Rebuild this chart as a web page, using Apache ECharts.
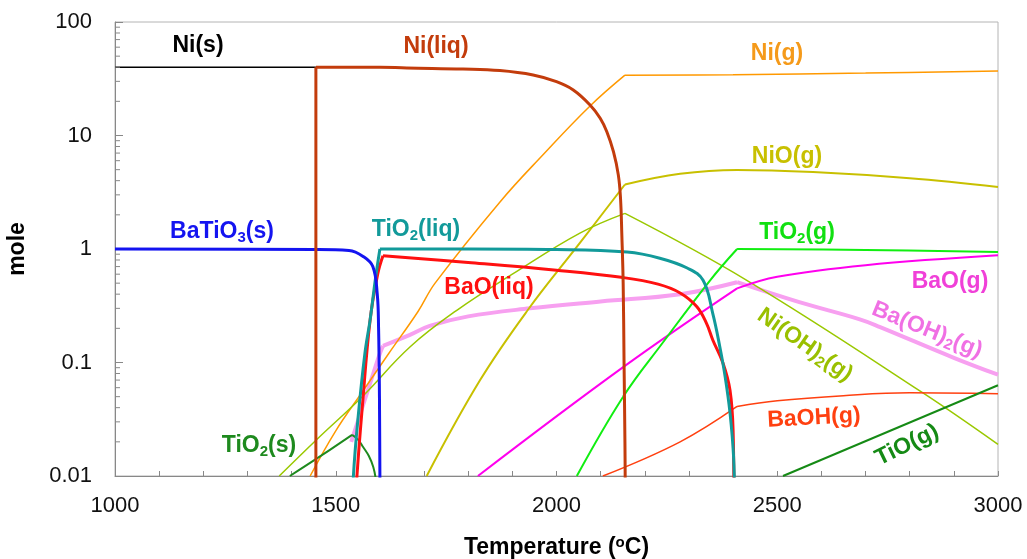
<!DOCTYPE html>
<html>
<head>
<meta charset="utf-8">
<script src="https://cdn.jsdelivr.net/npm/echarts@6/dist/echarts.min.js"></script>
<style>html,body{margin:0;padding:0;background:#fff;}#c{width:1027px;height:559px;}</style>
</head>
<body>
<div id="c"></div>
<script>
// ---- data (temperature °C, mole) ----
const xTicks = [1000, 1500, 2000, 2500, 3000];
const yTicks = [0.01, 0.1, 1, 10, 100];

const NiS = [[1000,40],[1455,40]];
const NiLiq = [[1455,0.005],[1455,40],[1600,40],[1661,39.3],[1788,38.5],[1872,37.3],[1947,34.1],[2000,29.8],[2038,25.2],[2076,18.6],[2099,14.2],[2114,10.8],[2129,7.2],[2140,4.5],[2145,2.8],[2148,1.33],[2151,0.5],[2153,0.1],[2155,0.02],[2156,0.005]];
const NiG = [[1442,0.01],[1500,0.025],[1560,0.055],[1620,0.12],[1686,0.28],[1725,0.5],[1872,2.6],[1970,6.8],[2076,18.2],[2155,34],[2400,34.3],[2700,35.5],[3000,37]];
const NiOG = [[1706,0.01],[1827,0.07],[1935,0.29],[2053,1.13],[2155,3.7],[2280,4.6],[2409,4.97],[2581,4.76],[2800,4.2],[3000,3.52]];
const NiOH2G = [[1372,0.01],[1457,0.021],[1560,0.05],[1668,0.137],[1775,0.29],[1900,0.6],[2053,1.38],[2155,2.06],[2431,0.53],[2830,0.054],[3000,0.019]];
const BaTiO3S = [[1000,1],[1450,0.99],[1530,0.97],[1562,0.86],[1584,0.7],[1594,0.4],[1597,0.2],[1599,0.05],[1600,0.01],[1601,0.005]];
const TiO2Liq = [[1538,0.005],[1540,0.01],[1550,0.031],[1566,0.12],[1578,0.24],[1590,0.55],[1600,1.0],[1800,1.0],[2000,0.99],[2160,0.94],[2234,0.83],[2296,0.68],[2332,0.53],[2354,0.27],[2370,0.137],[2382,0.075],[2393,0.036],[2401,0.015],[2404,0.005]];
const BaOLiq = [[1544,0.005],[1548,0.01],[1560,0.04],[1578,0.24],[1595,0.6],[1607,0.87],[1800,0.76],[2000,0.65],[2151,0.56],[2230,0.49],[2280,0.41],[2318,0.31],[2340,0.22],[2354,0.158],[2377,0.099],[2393,0.057],[2400,0.025],[2402,0.005]];
const BaOH2G = [[1535,0.02],[1560,0.04],[1585,0.08],[1600,0.12],[1607,0.14],[1668,0.175],[1713,0.21],[1800,0.255],[1940,0.30],[2100,0.345],[2280,0.40],[2409,0.51],[2550,0.34],[2687,0.24],[2733,0.205],[2900,0.11],[3000,0.078]];
const BaOG = [[1822,0.01],[2151,0.091],[2409,0.45],[2500,0.57],[2700,0.72],[3000,0.88]];
const TiO2G = [[2046,0.01],[2151,0.05],[2241,0.15],[2348,0.53],[2409,1.0],[2700,0.98],[3000,0.94]];
const BaOHG = [[2105,0.01],[2280,0.02],[2409,0.041],[2500,0.046],[2650,0.051],[2800,0.054],[3000,0.053]];
const TiOG = [[2513,0.01],[3000,0.063]];
const TiO2S = [[1396,0.01],[1460,0.0145],[1537,0.023],[1550,0.021],[1562,0.018],[1575,0.015],[1585,0.012],[1591,0.009],[1593,0.005]];

const FONT = "'Liberation Sans', Arial, sans-serif";

// corners: data indices where the curve has a sharp kink (line is split there, each piece smoothed)
const seriesDefs = [
  {name:'Ba(OH)2(g)', data:BaOH2G, color:'#F7A0F0', width:4, corners:[4,11], smooth:0.4},
  {name:'Ni(s)', data:NiS, color:'#000000', width:1.5, corners:[], smooth:0},
  {name:'Ni(g)', data:NiG, color:'#FF9900', width:1.5, corners:[9], smooth:0.4},
  {name:'NiO(g)', data:NiOG, color:'#C8C000', width:2, corners:[4], smooth:0.4},
  {name:'Ni(OH)2(g)', data:NiOH2G, color:'#9AC800', width:1.5, corners:[7], smooth:0.4},
  {name:'BaO(g)', data:BaOG, color:'#FF00EE', width:2, corners:[2], smooth:0.4},
  {name:'TiO2(g)', data:TiO2G, color:'#11EE11', width:2, corners:[4], smooth:0.4},
  {name:'BaOH(g)', data:BaOHG, color:'#FF4010', width:1.5, corners:[2], smooth:0.4},
  {name:'TiO(g)', data:TiOG, color:'#158A15', width:2, corners:[], smooth:0},
  {name:'TiO2(s)', data:TiO2S, color:'#1E8A1E', width:2, corners:[2], smooth:0.4},
  {name:'BaO(liq)', data:BaOLiq, color:'#FF1010', width:3, corners:[5], smooth:0.4},
  {name:'TiO2(liq)', data:TiO2Liq, color:'#129A9A', width:3, corners:[6], smooth:0.4},
  {name:'BaTiO3(s)', data:BaTiO3S, color:'#1414F0', width:3, corners:[], smooth:0.4},
  {name:'Ni(liq)', data:NiLiq, color:'#C33C0C', width:3, corners:[1], smooth:0.4}
];

// labels: [text-with-rich, color, cx, cy, rotationDeg]
const labels = [
  ['{a|Ni(s)}', '#000000', 198, 46, 0],
  ['{a|Ni(liq)}', '#C33C0C', 436, 47, 0],
  ['{a|Ni(g)}', '#F59A1A', 777, 54, 0],
  ['{a|NiO(g)}', '#C8C000', 787, 157, 0],
  ['{a|TiO}{s|2}{a|(liq)}', '#129A9A', 416, 230, 0],
  ['{a|BaTiO}{s|3}{a|(s)}', '#1414F0', 222, 232, 0],
  ['{a|TiO}{s|2}{a|(g)}', '#11E011', 797, 233, 0],
  ['{a|BaO(liq)}', '#FF1010', 489, 288, 0],
  ['{a|BaO(g)}', '#F040D8', 950, 282, 0],
  ['{a|Ba(OH)}{s|2}{a|(g)}', '#F070E4', 927, 330, -22],
  ['{a|Ni(OH)}{s|2}{a|(g)}', '#9AC000', 805, 345, -35],
  ['{a|BaOH(g)}', '#FF4010', 814, 418, 3],
  ['{a|TiO(g)}', '#158A15', 907, 445, 26],
  ['{a|TiO}{s|2}{a|(s)}', '#1E8A1E', 259, 446, 0]
];

function pieces(data, corners) {
  const cuts = [0].concat(corners, [data.length - 1]);
  const out = [];
  for (let i = 0; i < cuts.length - 1; i++) out.push(data.slice(cuts[i], cuts[i+1] + 1));
  return out;
}

const chart = echarts.init(document.getElementById('c'), null, {renderer:'canvas'});

function fmtY(v){ return String(parseFloat(Number(v).toPrecision(6))); }

const series = [];
seriesDefs.forEach(s => {
  pieces(s.data, s.corners).forEach(seg => {
    series.push({
      name:s.name, type:'line', data:seg, showSymbol:false, symbol:'none',
      smooth: seg.length > 2 ? s.smooth : false, clip:true,
      lineStyle:{color:s.color, width:s.width}, itemStyle:{color:s.color}
    });
  });
});

const option = {
  animation: false,
  backgroundColor: '#ffffff',
  grid: {left:115, right:29, top:22, bottom:83, show:true, borderColor:'#b4b4b4', borderWidth:1,
    backgroundColor:'transparent', containLabel:false, outerBoundsMode:'none'},
  xAxis: {
    type:'value', min:1000, max:3000, interval:100,
    name:'{a|Temperature (}{b|o}{a|C)}', nameLocation:'middle', nameGap:59,
    nameTextStyle:{rich:{
      a:{fontSize:23, fontWeight:'bold', fontFamily:FONT, color:'#000'},
      b:{fontSize:15, fontWeight:'bold', fontFamily:FONT, color:'#000', padding:[0,0,10,0]}
    }},
    axisLine:{lineStyle:{color:'#888888', width:1}},
    axisTick:{inside:true, length:5, lineStyle:{color:'#888888'}},
    splitLine:{show:false},
    axisLabel:{margin:19, fontSize:22, color:'#111', fontFamily:FONT,
      formatter: v => (xTicks.indexOf(v) >= 0 ? String(v) : '')}
  },
  yAxis: {
    type:'log', logBase:10, min:0.01, max:100,
    name:'mole', nameLocation:'middle', nameGap:86, nameRotate:90,
    nameTextStyle:{fontSize:23, fontWeight:'bold', fontFamily:FONT, color:'#000'},
    axisLine:{show:true, lineStyle:{color:'#888888', width:1}},
    axisTick:{show:true, inside:true, length:8, lineStyle:{color:'#888888'}},
    splitLine:{show:false},
    minorTick:{show:false},
    axisLabel:{margin:23, fontSize:22, color:'#111', fontFamily:FONT, formatter: fmtY}
  },
  series: series
};
chart.setOption(option);

// minor ticks on the log axis at 2..9 of each decade, placed through the chart's scale
const graphics = [];
for (let d = -2; d < 2; d++) {
  for (let k = 2; k <= 9; k++) {
    const v = k * Math.pow(10, d);
    const p = chart.convertToPixel({gridIndex:0}, [1000, v]);
    graphics.push({type:'line', silent:true, z:5,
      shape:{x1:p[0], y1:p[1], x2:p[0]+5, y2:p[1]},
      style:{stroke:'#888888', lineWidth:1}});
  }
}
labels.forEach(l => {
  const [txt, col, cx, cy, rot] = l;
  graphics.push({type:'text', z:10, x:cx, y:cy, rotation: rot*Math.PI/180,
    style:{text:txt, align:'center', verticalAlign:'middle', fill:col,
      rich:{
        a:{fontSize:23, fontWeight:'bold', fontFamily:FONT, fill:col},
        s:{fontSize:15, fontWeight:'bold', fontFamily:FONT, fill:col, padding:[12,0,0,0]}
      }}});
});
chart.setOption({graphic: graphics});
</script>
</body>
</html>
